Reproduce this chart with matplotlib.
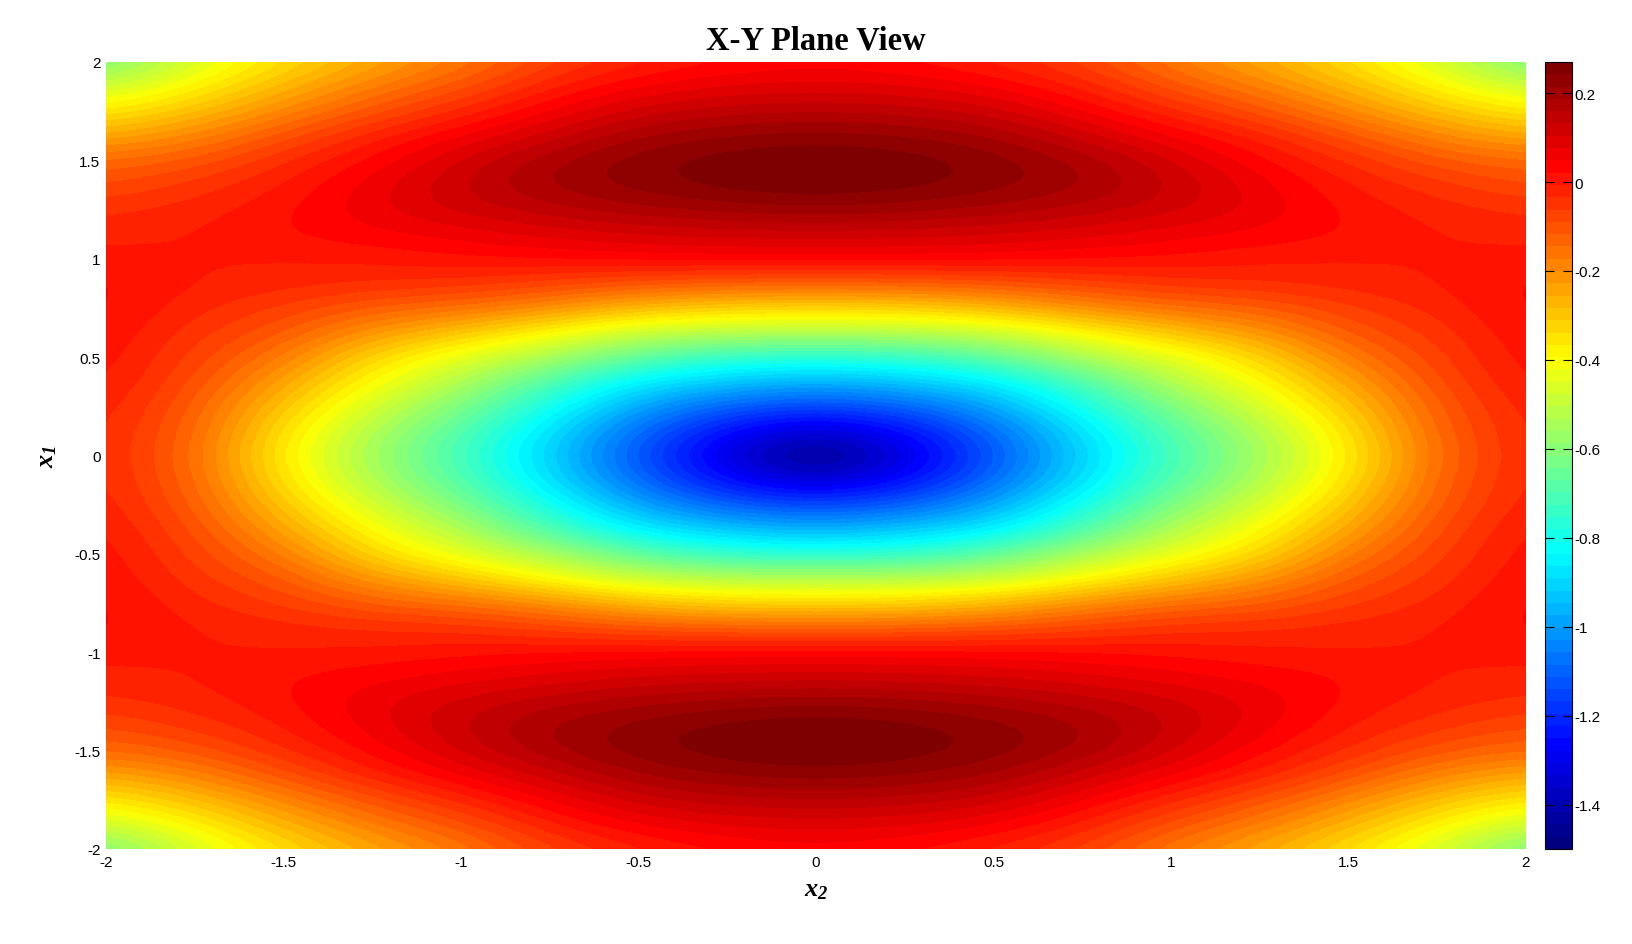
import numpy as np
import matplotlib
matplotlib.use("Agg")
import matplotlib.pyplot as plt
from matplotlib.colors import LinearSegmentedColormap

plt.rcParams['font.family'] = ['Liberation Sans', 'DejaVu Sans']
plt.rcParams['axes.unicode_minus'] = False
plt.rcParams['mathtext.fontset'] = 'custom'
plt.rcParams['mathtext.it'] = 'Liberation Serif:italic:bold'
plt.rcParams['mathtext.rm'] = 'Liberation Serif:italic:bold'

# values read off the picture by colour, one quadrant (x1 >= 0, x2 >= 0)
# each row is one x1, going along x2 = 0, 0.25 ... 2
x1_vals = [0, 0.125, 0.25, 0.375, 0.5, 0.625, 0.75, 0.875, 1.0,
           1.125, 1.25, 1.375, 1.5, 1.625, 1.75, 1.875, 2.0]
x2_vals = [0, 0.25, 0.5, 0.75, 1.0, 1.25, 1.5, 1.75, 2.0]

z_000 = [-1.50, -1.33, -1.13, -0.91, -0.72, -0.56, -0.375, -0.14, -0.025]
z_012 = [-1.36, -1.26, -1.09, -0.88, -0.69, -0.535, -0.35, -0.13, -0.02]
z_025 = [-1.16, -1.11, -0.99, -0.80, -0.62, -0.47, -0.30, -0.115, -0.01]
z_037 = [-0.97, -0.93, -0.86, -0.70, -0.53, -0.40, -0.24, -0.09, 0.005]
z_050 = [-0.77, -0.75, -0.67, -0.54, -0.44, -0.33, -0.17, -0.07, 0.015]
z_062 = [-0.52, -0.52, -0.49, -0.40, -0.30, -0.22, -0.11, -0.05, 0.022]
z_075 = [-0.33, -0.32, -0.28, -0.20, -0.15, -0.12, -0.065, -0.025, 0.03]
z_087 = [-0.12, -0.115, -0.10, -0.07, -0.04, -0.035, -0.02, -0.008, 0.03]
z_100 = [0.04, 0.04, 0.035, 0.025, 0.015, 0.0, -0.005, -0.005, 0.01]
z_112 = [0.12, 0.115, 0.105, 0.085, 0.06, 0.04, 0.02, -0.005, -0.02]
z_125 = [0.21, 0.20, 0.18, 0.15, 0.115, 0.07, 0.015, -0.02, -0.04]
z_137 = [0.27, 0.258, 0.23, 0.195, 0.135, 0.062, -0.005, -0.05, -0.09]
z_150 = [0.275, 0.262, 0.235, 0.185, 0.11, 0.03, -0.035, -0.107, -0.14]
z_162 = [0.23, 0.22, 0.19, 0.12, 0.05, -0.015, -0.10, -0.19, -0.25]
z_175 = [0.16, 0.15, 0.12, 0.05, -0.025, -0.10, -0.19, -0.29, -0.365]
z_187 = [0.09, 0.08, 0.05, -0.01, -0.10, -0.174, -0.27, -0.38, -0.49]
z_200 = [0.035, 0.02, -0.015, -0.07, -0.17, -0.247, -0.344, -0.46, -0.63]

x_ticks = [-2, -1.5, -1, -0.5, 0, 0.5, 1, 1.5, 2]
y_ticks = [-2, -1.5, -1, -0.5, 0, 0.5, 1, 1.5, 2]
x_ticklabels = ['-2', '-1.5', '-1', '-0.5', '0', '0.5', '1', '1.5', '2']
cbar_ticks = [0.2, 0, -0.2, -0.4, -0.6, -0.8, -1, -1.2, -1.4]
cbar_labels = ['0.2', '0', '-0.2', '-0.4', '-0.6', '-0.8', '-1', '-1.2', '-1.4']
z_min = -1.5
z_max = 0.27

# mirror the quadrant to the other three
quad = np.array([z_000, z_012, z_025, z_037, z_050, z_062, z_075, z_087, z_100,
                 z_112, z_125, z_137, z_150, z_162, z_175, z_187, z_200])
right = np.vstack([quad[:0:-1], quad])
z = np.hstack([right[:, :0:-1], right])

# matlab style jet with 64 steps
jet = LinearSegmentedColormap.from_list('jet64', [
    (0, (0, 0, 0.5)), (1 / 8, (0, 0, 1)), (3 / 8, (0, 1, 1)),
    (5 / 8, (1, 1, 0)), (7 / 8, (1, 0, 0)), (1, (0.5, 0, 0))], N=64)

W, H = 1632, 945
fig = plt.figure(figsize=(W / 100, H / 100), dpi=100)
ax = fig.add_axes([106 / W, (H - 850) / H, 1420 / W, 787 / H])
cax = fig.add_axes([1545 / W, (H - 850) / H, 27 / W, 787 / H])

dx = x2_vals[1] - x2_vals[0]
dy = x1_vals[1] - x1_vals[0]
im = ax.imshow(z, origin='lower', aspect='auto', cmap=jet, vmin=z_min, vmax=z_max,
               extent=[-2 - dx / 2, 2 + dx / 2, -2 - dy / 2, 2 + dy / 2],
               interpolation='bicubic', interpolation_stage='data')
ax.set_xlim(-2, 2)
ax.set_ylim(-2, 2)
ax.set_xticks(x_ticks)
ax.set_xticklabels(x_ticklabels)
ax.set_yticks(y_ticks)
ax.set_yticklabels(x_ticklabels)
ax.tick_params(length=0, labelsize=11, pad=4)
for s in ax.spines.values():
    s.set_visible(False)

ax.set_title('X-Y Plane View', family='Liberation Serif', fontweight='bold', fontsize=23.5, pad=9.5)
ax.set_xlabel(r'$x_{2}$', fontsize=19, labelpad=6)
ax.set_ylabel(r'$x_{1}$', fontsize=19, labelpad=11)

cb = fig.colorbar(im, cax=cax)
cb.set_ticks(cbar_ticks)
cb.set_ticklabels(cbar_labels)
cb.minorticks_off()
cax.tick_params(axis='y', direction='in', left=True, right=True, length=6.5, width=0.8, labelsize=11, pad=2)
cb.outline.set_linewidth(0.8)

fig.savefig('out.png', dpi=100)
